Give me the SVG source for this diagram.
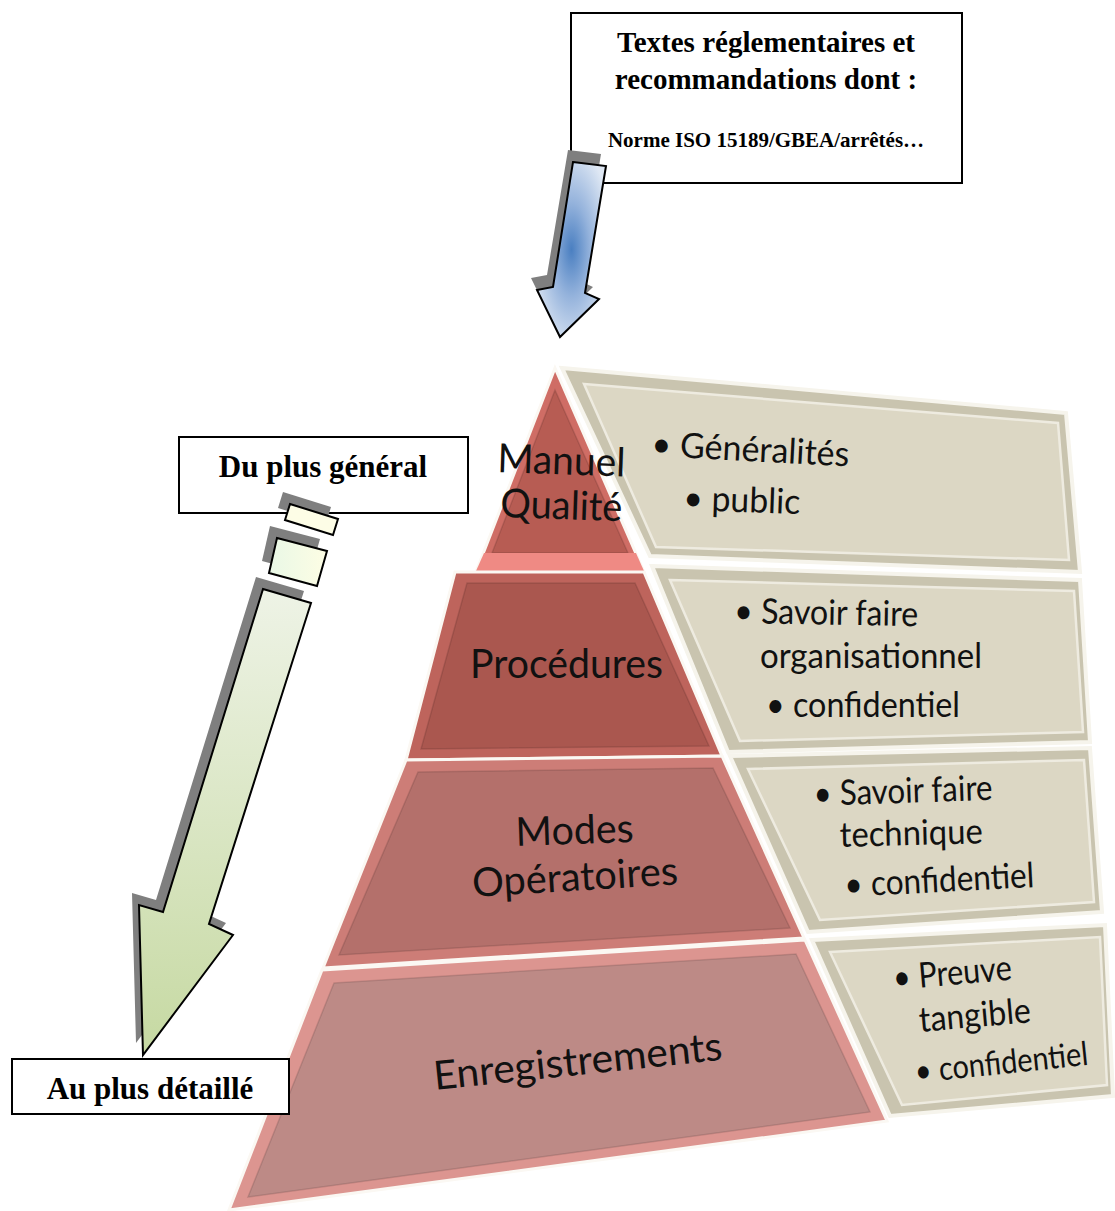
<svg xmlns="http://www.w3.org/2000/svg" width="1115" height="1211" viewBox="0 0 1115 1211">
<defs>
<style>
.box{fill:#fff;stroke:#000;stroke-width:2}
.serif{font-family:"Liberation Serif","Times New Roman",serif;font-weight:bold;fill:#000}
.cal{font-family:Lato,"Liberation Sans",sans-serif;fill:#111}
.shadow{fill:#7f7f7f}
.arrowline{stroke:#000;stroke-width:2;stroke-linejoin:miter}
.pouter{stroke:#fbf8f3;stroke-width:3}
.pinner{stroke:#000;stroke-opacity:0.12;stroke-width:1.5}
.pan-out{fill:#c9c4af;stroke:#f6f4ec;stroke-width:4}
.pan-in{fill:#dcd7c4;stroke:#eeebe0;stroke-width:2.5}
</style>
<radialGradient id="blueGrad" cx="0.5" cy="0.5" r="0.6">
<stop offset="0" stop-color="#4a7fc1"/>
<stop offset="0.45" stop-color="#95b3dc"/>
<stop offset="1" stop-color="#dfe8f4"/>
</radialGradient>
<linearGradient id="greenGrad" x1="0" y1="0" x2="0" y2="1">
<stop offset="0" stop-color="#eef3e6"/>
<stop offset="1" stop-color="#c6d9a2"/>
</linearGradient>
<linearGradient id="segGrad" x1="0" y1="0" x2="1" y2="0">
<stop offset="0" stop-color="#e9f8e6"/>
<stop offset="1" stop-color="#fdfde4"/>
</linearGradient>
</defs>

<g id="panels">
<g id="panel-1">
<polygon class="pan-out" points="562,368 1066,413 1080,572 650,556"/>
<polygon class="pan-in" points="584,384 1058,423 1069,560 656,547"/>
</g>
<g id="panel-2">
<polygon class="pan-out" points="652,566 1080,580 1090,742 728,752"/>
<polygon class="pan-in" points="670,580 1074,591 1083,732 740,741"/>
</g>
<g id="panel-3">
<polygon class="pan-out" points="730,756 1090,748 1102,912 808,932"/>
<polygon class="pan-in" points="748,769 1084,760 1094,902 820,920"/>
</g>
<g id="panel-4">
<polygon class="pan-out" points="812,940 1105,925 1113,1096 890,1116"/>
<polygon class="pan-in" points="830,952 1100,937 1107,1085 902,1105"/>
</g>
</g>

<g id="pyramid">
<g id="layer-manuel">
<polygon class="pouter" fill="#cf6d65" points="555,368 644,572 476,572"/>
<polygon class="pinner" fill="#b75c53" points="555,390 628,553 492,553"/>
<polygon fill="#ef8a84" points="484,553 636,553 644,571 476,571"/>
</g>
<g id="layer-procedures">
<polygon class="pouter" fill="#be645c" points="455,572 644,572 722,756 406,760"/>
<polygon class="pinner" fill="#aa574f" points="467,583 635,583 709,746 421,749"/>
</g>
<g id="layer-modes">
<polygon class="pouter" fill="#cd7d77" points="406,760 722,756 804,938 323,968"/>
<polygon class="pinner" fill="#b4706b" points="418,772 713,768 790,928 339,955"/>
</g>
<g id="layer-enregistrements">
<polygon class="pouter" fill="#dc9590" points="322,970 805,940 887,1121 229,1210"/>
<polygon class="pinner" fill="#bd8a86" points="334,983 796,954 870,1112 248,1197"/>
</g>
</g>

<g id="pyramid-labels">
<text class="cal" x="497" y="472" font-size="40" textLength="128" lengthAdjust="spacingAndGlyphs" transform="rotate(2 497 472)">Manuel</text>
<text class="cal" x="500" y="517" font-size="40" textLength="122" lengthAdjust="spacingAndGlyphs" transform="rotate(2 500 517)">Qualité</text>
<text class="cal" x="470" y="678" font-size="40" textLength="193" lengthAdjust="spacingAndGlyphs">Procédures</text>
<text class="cal" x="516" y="846" font-size="40" textLength="118" lengthAdjust="spacingAndGlyphs" transform="rotate(-2 516 846)">Modes</text>
<text class="cal" x="473" y="897" font-size="40" textLength="206" lengthAdjust="spacingAndGlyphs" transform="rotate(-3.5 473 897)">Opératoires</text>
<text class="cal" x="435" y="1090" font-size="40" textLength="290" lengthAdjust="spacingAndGlyphs" transform="rotate(-6 435 1090)">Enregistrements</text>
</g>

<g id="panel-labels">
<text class="cal" x="651" y="456" font-size="35" textLength="198" lengthAdjust="spacingAndGlyphs" transform="rotate(3 651 456)">• Généralités</text>
<text class="cal" x="683" y="510" font-size="35" textLength="117" lengthAdjust="spacingAndGlyphs" transform="rotate(2 683 510)">• public</text>
<text class="cal" x="734" y="623" font-size="35" textLength="184" lengthAdjust="spacingAndGlyphs" transform="rotate(1 734 623)">• Savoir faire</text>
<text class="cal" x="760" y="668" font-size="35" textLength="222" lengthAdjust="spacingAndGlyphs">organisationnel</text>
<text class="cal" x="766" y="717" font-size="35" textLength="194" lengthAdjust="spacingAndGlyphs">• confidentiel</text>
<text class="cal" x="814" y="806" font-size="35" textLength="179" lengthAdjust="spacingAndGlyphs" transform="rotate(-2 814 806)">• Savoir faire</text>
<text class="cal" x="840" y="847" font-size="35" textLength="143" lengthAdjust="spacingAndGlyphs" transform="rotate(-1.5 840 847)">technique</text>
<text class="cal" x="845" y="897" font-size="35" textLength="190" lengthAdjust="spacingAndGlyphs" transform="rotate(-3 845 897)">• confidentiel</text>
<text class="cal" x="894" y="990" font-size="35" textLength="119" lengthAdjust="spacingAndGlyphs" transform="rotate(-5 894 990)">• Preuve</text>
<text class="cal" x="920" y="1032" font-size="35" textLength="112" lengthAdjust="spacingAndGlyphs" transform="rotate(-5 920 1032)">tangible</text>
<text class="cal" x="916" y="1083" font-size="33" textLength="174" lengthAdjust="spacingAndGlyphs" transform="rotate(-6 916 1083)">• confidentiel</text>
</g>

<g id="top-box">
<rect class="box" x="571" y="13" width="391" height="170"/>
<text class="serif" x="766" y="52" font-size="29" text-anchor="middle">Textes réglementaires et</text>
<text class="serif" x="766" y="89" font-size="29" text-anchor="middle">recommandations dont :</text>
<text class="serif" x="766" y="147" font-size="21" text-anchor="middle">Norme ISO 15189/GBEA/arrêtés…</text>
</g>

<g id="du-plus-general">
<rect class="box" x="179" y="437" width="289" height="76"/>
<text class="serif" x="323" y="477" font-size="31" text-anchor="middle">Du plus général</text>
</g>

<g id="au-plus-detaille">
<rect class="box" x="12" y="1059" width="277" height="55"/>
<text class="serif" x="150" y="1099" font-size="31" text-anchor="middle">Au plus détaillé</text>
</g>

<g id="connectors">
<g id="blue-arrow">
<polygon class="shadow" points="568,150 601,154 580,281 593,287 554,325 531,278 547,275"/>
<polygon class="arrowline" fill="url(#blueGrad)" points="573,162 606,166 585,293 599,299 560,337 537,290 553,287"/>
</g>
<g id="green-arrow">
<polygon class="shadow" points="283,492 331,507 326,523 278,508"/>
<polygon class="arrowline" fill="#fdfde6" points="290,504 338,519 333,535 285,520"/>
<polygon class="shadow" points="270,526 320,539 310,574 262,561"/>
<polygon class="arrowline" fill="url(#segGrad)" points="277,538 327,551 317,586 269,573"/>
<polygon class="shadow" points="256,577 304,591 202,912 226,923 136,1043 132,893 156,900"/>
<polygon class="arrowline" fill="url(#greenGrad)" points="263,589 311,603 209,924 233,935 143,1055 139,905 163,912"/>
</g>
</g>
</svg>
